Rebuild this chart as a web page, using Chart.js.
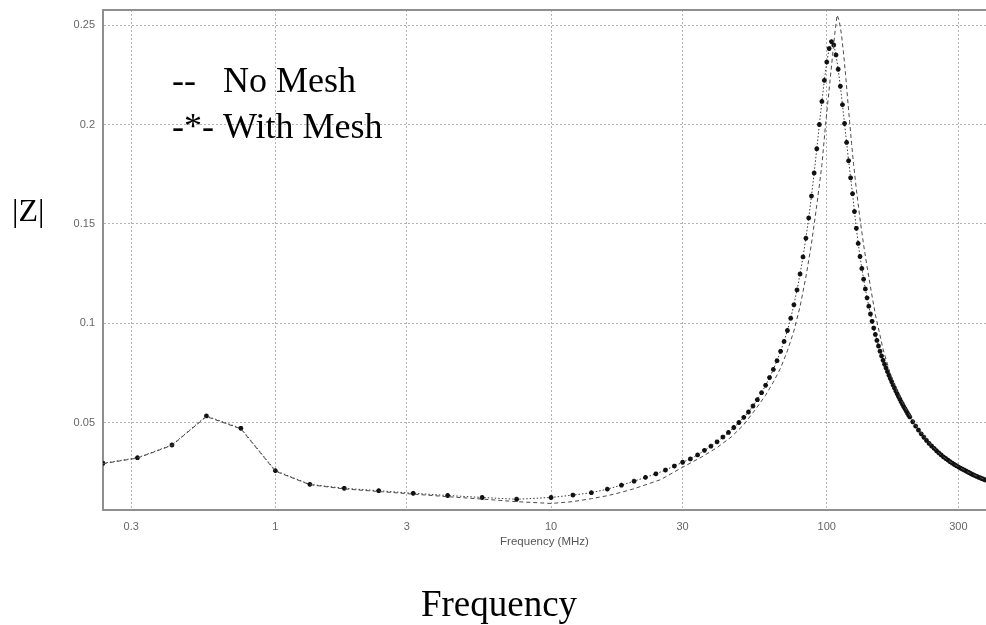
<!DOCTYPE html>
<html>
<head>
<meta charset="utf-8">
<script src="https://cdn.jsdelivr.net/npm/chart.js@4.4.1/dist/chart.umd.min.js"></script>
<style>
    html, body { margin: 0; padding: 0; background: #fff; }
    #wrap { width: 986px; height: 625px; }
</style>
</head>
<body>
<div id="wrap"><canvas id="impedance-chart" width="986" height="625"></canvas></div>
<script>
(function () {
    "use strict";

    // |Z| with mesh (markers): 8 points/decade below 10 MHz, then 2 MHz and 5 MHz steps
    const withMeshFreq = [
        0.2371, 0.3162, 0.4217, 0.5623, 0.7499, 1, 1.334, 1.778, 2.371, 3.162, 4.217, 5.623, 7.499, 10,
        12, 14, 16, 18, 20, 22, 24, 26, 28, 30, 32, 34, 36, 38, 40, 42, 44, 46, 48,
        50, 52, 54, 56, 58, 60, 62, 64, 66, 68, 70, 72, 74, 76, 78, 80, 82, 84, 86, 88, 90, 92, 94, 96, 98, 100, 102, 104,
        106, 108, 110, 112, 114, 116, 118, 120, 122, 124, 126,
        128, 130, 132, 134, 136, 138, 140, 142, 144, 146, 148, 150, 152, 154, 156, 158, 160, 162, 164, 166, 168, 170,
        172, 174, 176, 178, 180, 182, 184, 186, 188, 190, 192, 194, 196, 198, 200,
        205, 210, 215, 220, 225, 230, 235, 240, 245, 250, 255, 260, 265, 270, 275, 280, 285, 290, 295, 300,
        305, 310, 315, 320, 325, 330, 335, 340, 345, 350, 355, 360, 365, 370, 375, 380
    ];
    const withMeshZ = [
        0.0296, 0.0324, 0.0388, 0.0534, 0.0472, 0.0259, 0.0190, 0.0170, 0.0158, 0.0145, 0.0134, 0.0124, 0.0115, 0.0124,
        0.0136, 0.0148, 0.0166, 0.0186, 0.0206, 0.0225, 0.0243, 0.0262, 0.0282, 0.0301, 0.0318, 0.0338, 0.0361, 0.0382, 0.0404, 0.0428, 0.0451, 0.0476, 0.0501,
        0.0527, 0.0554, 0.0584, 0.0616, 0.0651, 0.0688, 0.0727, 0.0768, 0.0812, 0.0859, 0.0909, 0.0964, 0.1026, 0.1093, 0.1168, 0.1248, 0.1334, 0.1428, 0.1530, 0.1640, 0.1756, 0.1878, 0.2000, 0.2116, 0.2222, 0.2314, 0.2382, 0.2417,
        0.2400, 0.2350, 0.2278, 0.2192, 0.2100, 0.2005, 0.1910, 0.1818, 0.1732, 0.1652, 0.1562,
        0.1478, 0.1402, 0.1336, 0.1276, 0.1222, 0.1173, 0.1128, 0.1086, 0.1047, 0.1010, 0.0976, 0.0944, 0.0914, 0.0886, 0.0860, 0.0836, 0.0814, 0.0794, 0.0775, 0.0757, 0.0739, 0.0722,
        0.0706, 0.0690, 0.0675, 0.0660, 0.0646, 0.0632, 0.0619, 0.0606, 0.0594, 0.0582, 0.0571, 0.0560, 0.0549, 0.0539, 0.0529,
        0.0505, 0.0483, 0.0463, 0.0444, 0.0427, 0.0411, 0.0396, 0.0383, 0.0371, 0.0359, 0.0348, 0.0338, 0.0328, 0.0320, 0.0312, 0.0304, 0.0297, 0.0290, 0.0284, 0.0278,
        0.0272, 0.0267, 0.0262, 0.0257, 0.0252, 0.0247, 0.0242, 0.0238, 0.0234, 0.0230, 0.0226, 0.0223, 0.0219, 0.0216, 0.0213, 0.0210
    ];

    // |Z| without mesh (dashed line)
    const noMeshFreq = [
        0.2371, 0.3162, 0.4217, 0.5623, 0.7499, 1, 1.334, 1.778, 2.371, 3.162, 4.217, 5.623, 7.499, 10,
        12, 14, 16, 18, 20, 25, 30, 35, 40, 45, 50, 55, 60, 64, 68, 72, 76, 80, 84, 88, 92, 96,
        99, 101, 103, 105, 107, 109, 111, 113, 115, 117, 119, 121, 123, 125, 128, 132, 136, 140, 145, 150,
        160, 170, 180, 190, 200, 210, 220, 240, 260, 280, 300, 330, 360, 380
    ];
    const noMeshZ = [
        0.0294, 0.0322, 0.0386, 0.0531, 0.0469, 0.0256, 0.0188, 0.0167, 0.0154, 0.0141, 0.0128, 0.0116, 0.0103, 0.0094,
        0.0103, 0.0118, 0.0133, 0.0150, 0.0168, 0.0214, 0.0276, 0.0326, 0.0375, 0.0428, 0.0490, 0.0565, 0.0638, 0.0704, 0.0775, 0.0862, 0.0962, 0.1084, 0.1233, 0.1400, 0.1594, 0.1795,
        0.2000, 0.2118, 0.2235, 0.2350, 0.2460, 0.2551, 0.2520, 0.2455, 0.2360, 0.2250, 0.2130, 0.2015, 0.1905, 0.1805, 0.1675, 0.1525, 0.1395, 0.1285, 0.1160, 0.1045,
        0.0870, 0.0745, 0.0655, 0.0590, 0.0538, 0.0490, 0.0450, 0.0386, 0.0337, 0.0304, 0.0279, 0.0247, 0.0224, 0.0211
    ];

    const xTicks = [0.3, 1, 3, 10, 30, 100, 300];
    const yTicks = [0.05, 0.1, 0.15, 0.2, 0.25];
    const legendLines = ["--   No Mesh", "-*- With Mesh"];

    const toPoints = (xs, ys) => xs.map((f, i) => ({ x: f, y: ys[i] }));

    // Text drawn on the canvas (axis name, big caption, inline legend) and top frame
    const overlayText = {
        id: "overlayText",
        afterDraw(chart) {
            const { ctx, chartArea } = chart;
            ctx.save();
            ctx.strokeStyle = "#8f8f8f";
            ctx.lineWidth = 2;
            ctx.beginPath();
            ctx.moveTo(chartArea.left - 1, chartArea.top);
            ctx.lineTo(chartArea.right, chartArea.top);
            ctx.stroke();

            ctx.fillStyle = "#000";
            ctx.textBaseline = "alphabetic";
            ctx.textAlign = "left";
            ctx.font = '36px "Liberation Serif"';
            ctx.fillText(legendLines[0], 172, 92);
            ctx.fillText(legendLines[1], 172, 138);

            ctx.font = '32px "Liberation Serif"';
            ctx.fillText("|Z|", 12, 221);

            ctx.font = '37px "Liberation Serif"';
            ctx.textAlign = "center";
            ctx.fillText("Frequency", 499, 616);
            ctx.restore();
        },
    };

    const ctx = document.getElementById("impedance-chart").getContext("2d");

    new Chart(ctx, {
        type: "line",
        data: {
            datasets: [
                {
                    label: "No Mesh",
                    data: toPoints(noMeshFreq, noMeshZ),
                    borderColor: "#4a4a4a",
                    borderWidth: 1,
                    borderDash: [4, 3],
                    pointRadius: 0,
                    fill: false,
                },
                {
                    label: "With Mesh",
                    data: toPoints(withMeshFreq, withMeshZ),
                    borderColor: "#3a3a3a",
                    borderWidth: 1,
                    borderDash: [1.5, 2],
                    pointStyle: "star",
                    pointRadius: 2.4,
                    pointBorderWidth: 1.5,
                    pointBorderColor: "#111",
                    pointBackgroundColor: "#111",
                    fill: false,
                },
            ],
        },
        options: {
            responsive: false,
            animation: false,
            events: [],
            layout: {
                autoPadding: false,
                padding: { top: 10, left: 0, right: 0, bottom: 0 },
            },
            plugins: {
                legend: { display: false },
                tooltip: { enabled: false },
            },
            scales: {
                x: {
                    type: "logarithmic",
                    min: 0.2371,
                    max: 378,
                    afterBuildTicks: (scale) => {
                        scale.ticks = xTicks.map((v) => ({ value: v }));
                    },
                    afterFit: (scale) => {
                        scale.height = 115;
                        scale.paddingLeft = 0;
                        scale.paddingRight = 0;
                    },
                    ticks: {
                        color: "#666",
                        padding: 10,
                        font: { family: "Liberation Sans", size: 11 },
                        callback: (v) => String(v),
                    },
                    grid: {
                        color: "#b3b3b3",
                        lineWidth: 1,
                        drawTicks: false,
                    },
                    border: {
                        color: "#8f8f8f",
                        width: 2,
                        dash: [2, 2],
                    },
                    title: {
                        display: true,
                        text: "Frequency (MHz)",
                        color: "#555",
                        font: { family: "Liberation Sans", size: 11.5 },
                        padding: { top: 0, bottom: 76 },
                    },
                },
                y: {
                    type: "linear",
                    min: 0.0061,
                    max: 0.2576,
                    afterBuildTicks: (scale) => {
                        scale.ticks = yTicks.map((v) => ({ value: v }));
                    },
                    afterFit: (scale) => {
                        scale.width = 103;
                        scale.paddingTop = 0;
                        scale.paddingBottom = 0;
                    },
                    ticks: {
                        color: "#666",
                        padding: 8,
                        font: { family: "Liberation Sans", size: 11 },
                        callback: (v) => String(v),
                    },
                    grid: {
                        color: "#b3b3b3",
                        lineWidth: 1,
                        drawTicks: false,
                    },
                    border: {
                        color: "#8f8f8f",
                        width: 2,
                        dash: [2, 2],
                    },
                },
            },
        },
        plugins: [overlayText],
    });
})();
</script>
</body>
</html>
